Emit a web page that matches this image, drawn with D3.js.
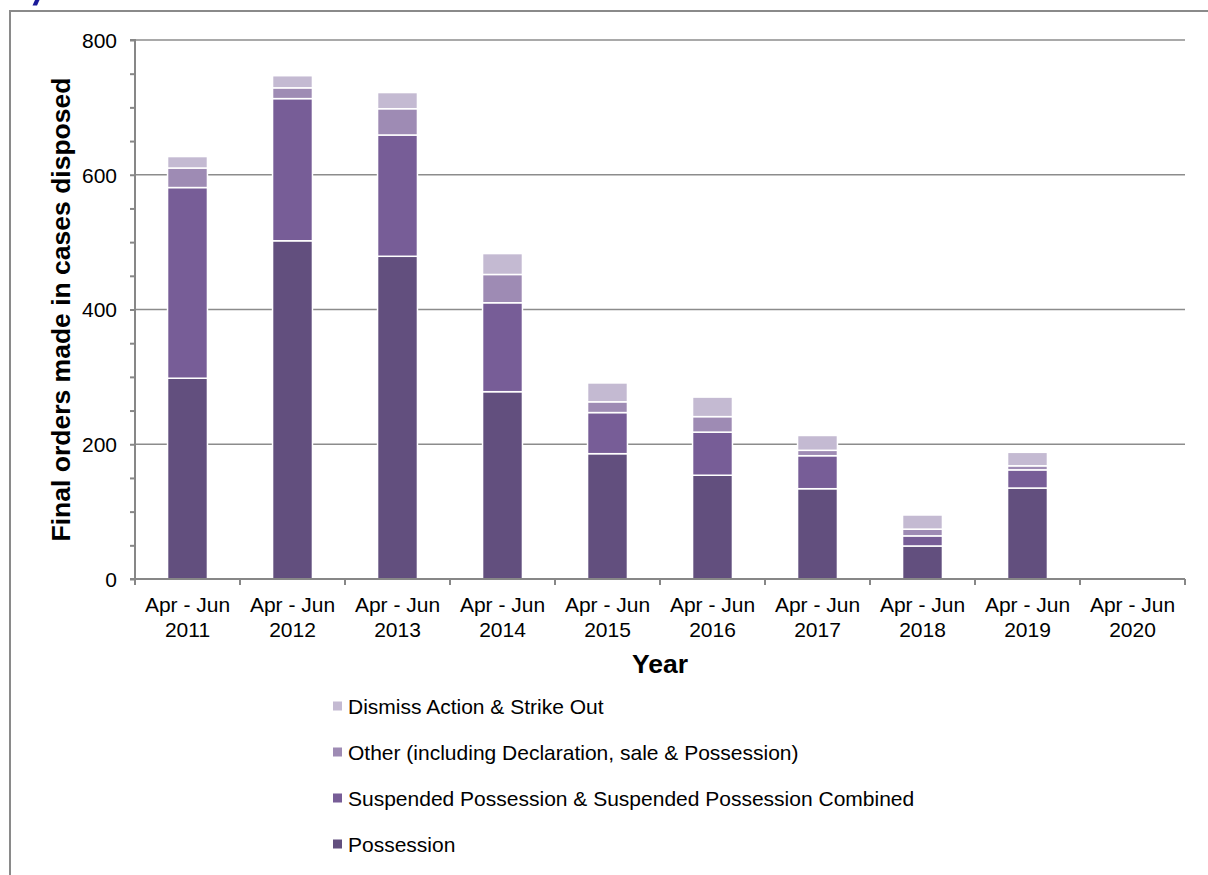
<!doctype html>
<html>
  <head>
    <meta charset="utf-8" />
    <style>
      body { margin: 0; background: #fff; }
      svg text { font-family: "Liberation Sans", Arial, sans-serif; fill: #000; }
      .grid line { stroke: #8c8c8c; stroke-width: 1.5px; }
      .axis path, .axis line { stroke: #878787; stroke-width: 2px; }
    </style>
  </head>
  <body>
    <div id="chart"></div>
    <script src="https://cdn.jsdelivr.net/npm/d3@7"></script>
    <script>
      // data
      var years = ["2011", "2012", "2013", "2014", "2015", "2016", "2017", "2018", "2019", "2020"];
      var possession = [298, 502, 479, 278, 186, 154, 134, 49, 135, 0];
      var suspended = [283, 211, 180, 132, 61, 64, 49, 15, 27, 0];
      var other = [29, 16, 39, 42, 16, 23, 8, 10, 6, 0];
      var dismiss = [17, 18, 24, 31, 28, 29, 22, 21, 20, 0];
      var seriesNames = [
        "Possession",
        "Suspended Possession & Suspended Possession Combined",
        "Other (including Declaration, sale & Possession)",
        "Dismiss Action & Strike Out"
      ];
      var colors = ["#624f7e", "#775d97", "#9e8bb4", "#c4bad2"];
      var yTicks = [0, 200, 400, 600, 800];

      var width = 1208, height = 875;
      var margin = {top: 40, right: 23, bottom: 296, left: 135};

      var rows = years.map(function(y, i) {
        return {year: y, s0: possession[i], s1: suspended[i], s2: other[i], s3: dismiss[i]};
      });
      var keys = ["s0", "s1", "s2", "s3"];
      var stacked = d3.stack().keys(keys)(rows);

      var svg = d3.select("#chart").append("svg")
          .attr("width", width)
          .attr("height", height);

      // outer frame (only left and top edges are visible)
      svg.append("path")
          .attr("d", "M10," + height + "V11H" + width)
          .attr("fill", "none")
          .attr("stroke", "#8a8a8a")
          .attr("stroke-width", 2);

      // bit of a cut-off title glyph at the very top
      svg.append("path")
          .attr("d", "M35,0H39.5L37,5.5H32.5Z")
          .attr("fill", "#1a1a99");

      var x = d3.scaleBand()
          .domain(years)
          .range([margin.left, width - margin.right])
          .paddingInner(0.62)
          .paddingOuter(0.31);

      var y = d3.scaleLinear()
          .domain([0, 800])
          .range([height - margin.bottom, margin.top]);

      var x0 = margin.left, x1 = width - margin.right;
      var step = (x1 - x0) / years.length;

      // gridlines
      svg.append("g").attr("class", "grid")
        .selectAll("line")
        .data(yTicks.slice(1))
        .enter().append("line")
          .attr("x1", x0).attr("x2", x1)
          .attr("y1", function(d) { return y(d); })
          .attr("y2", function(d) { return y(d); });

      // bars
      svg.append("g").selectAll("g")
        .data(stacked)
        .enter().append("g")
          .attr("fill", function(d, i) { return colors[i]; })
        .selectAll("rect")
        .data(function(d) { return d.filter(function(p) { return p[1] > p[0]; }); })
        .enter().append("rect")
          .attr("x", function(d) { return x(d.data.year); })
          .attr("width", x.bandwidth())
          .attr("y", function(d) { return y(d[1]); })
          .attr("height", function(d) { return y(d[0]) - y(d[1]); })
          .attr("stroke", "#fff")
          .attr("stroke-width", 1.5);

      // y axis with minor ticks every 50
      var yAxis = svg.append("g").attr("class", "axis")
          .attr("transform", "translate(" + x0 + ",0)")
          .call(d3.axisLeft(y).tickValues(d3.range(0, 801, 50)).tickSize(5).tickPadding(13)
                .tickFormat(function(d) { return yTicks.indexOf(d) >= 0 ? d : ""; }));
      yAxis.select(".domain").attr("d", "M-5," + y(800) + "H0V" + y(0) + "H-5");
      yAxis.selectAll("text").style("font-size", "21px").attr("dy", "0.35em");

      // x axis line with ticks at category boundaries
      var xAxis = svg.append("g").attr("class", "axis");
      xAxis.append("line")
          .attr("x1", x0).attr("x2", x1)
          .attr("y1", y(0)).attr("y2", y(0));
      xAxis.selectAll(".tk")
        .data(d3.range(years.length + 1))
        .enter().append("line")
          .attr("class", "tk")
          .attr("x1", function(i) { return x0 + i * step; })
          .attr("x2", function(i) { return x0 + i * step; })
          .attr("y1", y(0)).attr("y2", y(0) + 6);

      var lbl = svg.append("g").selectAll("text")
        .data(years)
        .enter().append("text")
          .attr("text-anchor", "middle")
          .style("font-size", "21px")
          .attr("transform", function(d) { return "translate(" + (x(d) + x.bandwidth() / 2) + "," + (y(0) + 33) + ")"; });
      lbl.append("tspan").attr("x", 0).attr("y", 0).text("Apr - Jun");
      lbl.append("tspan").attr("x", 0).attr("y", 25).text(function(d) { return d; });

      // axis titles
      svg.append("text")
          .attr("x", (x0 + x1) / 2)
          .attr("y", 673)
          .attr("text-anchor", "middle")
          .style("font-size", "26.5px")
          .style("font-weight", "bold")
          .text("Year");

      svg.append("text")
          .attr("transform", "translate(70," + y(400) + ") rotate(-90)")
          .attr("text-anchor", "middle")
          .style("font-size", "26.5px")
          .style("font-weight", "bold")
          .text("Final orders made in cases disposed");

      // legend, top entry is the last series
      var legend = svg.append("g").selectAll("g")
        .data(d3.range(4).reverse())
        .enter().append("g")
          .attr("transform", function(d, i) { return "translate(333," + (706 + i * 46) + ")"; });
      legend.append("rect")
          .attr("x", 0).attr("y", -4.5)
          .attr("width", 9).attr("height", 9)
          .attr("fill", function(d) { return colors[d]; });
      legend.append("text")
          .attr("x", 15)
          .attr("dy", "0.36em")
          .style("font-size", "21px")
          .text(function(d) { return seriesNames[d]; });
    </script>
  </body>
</html>
